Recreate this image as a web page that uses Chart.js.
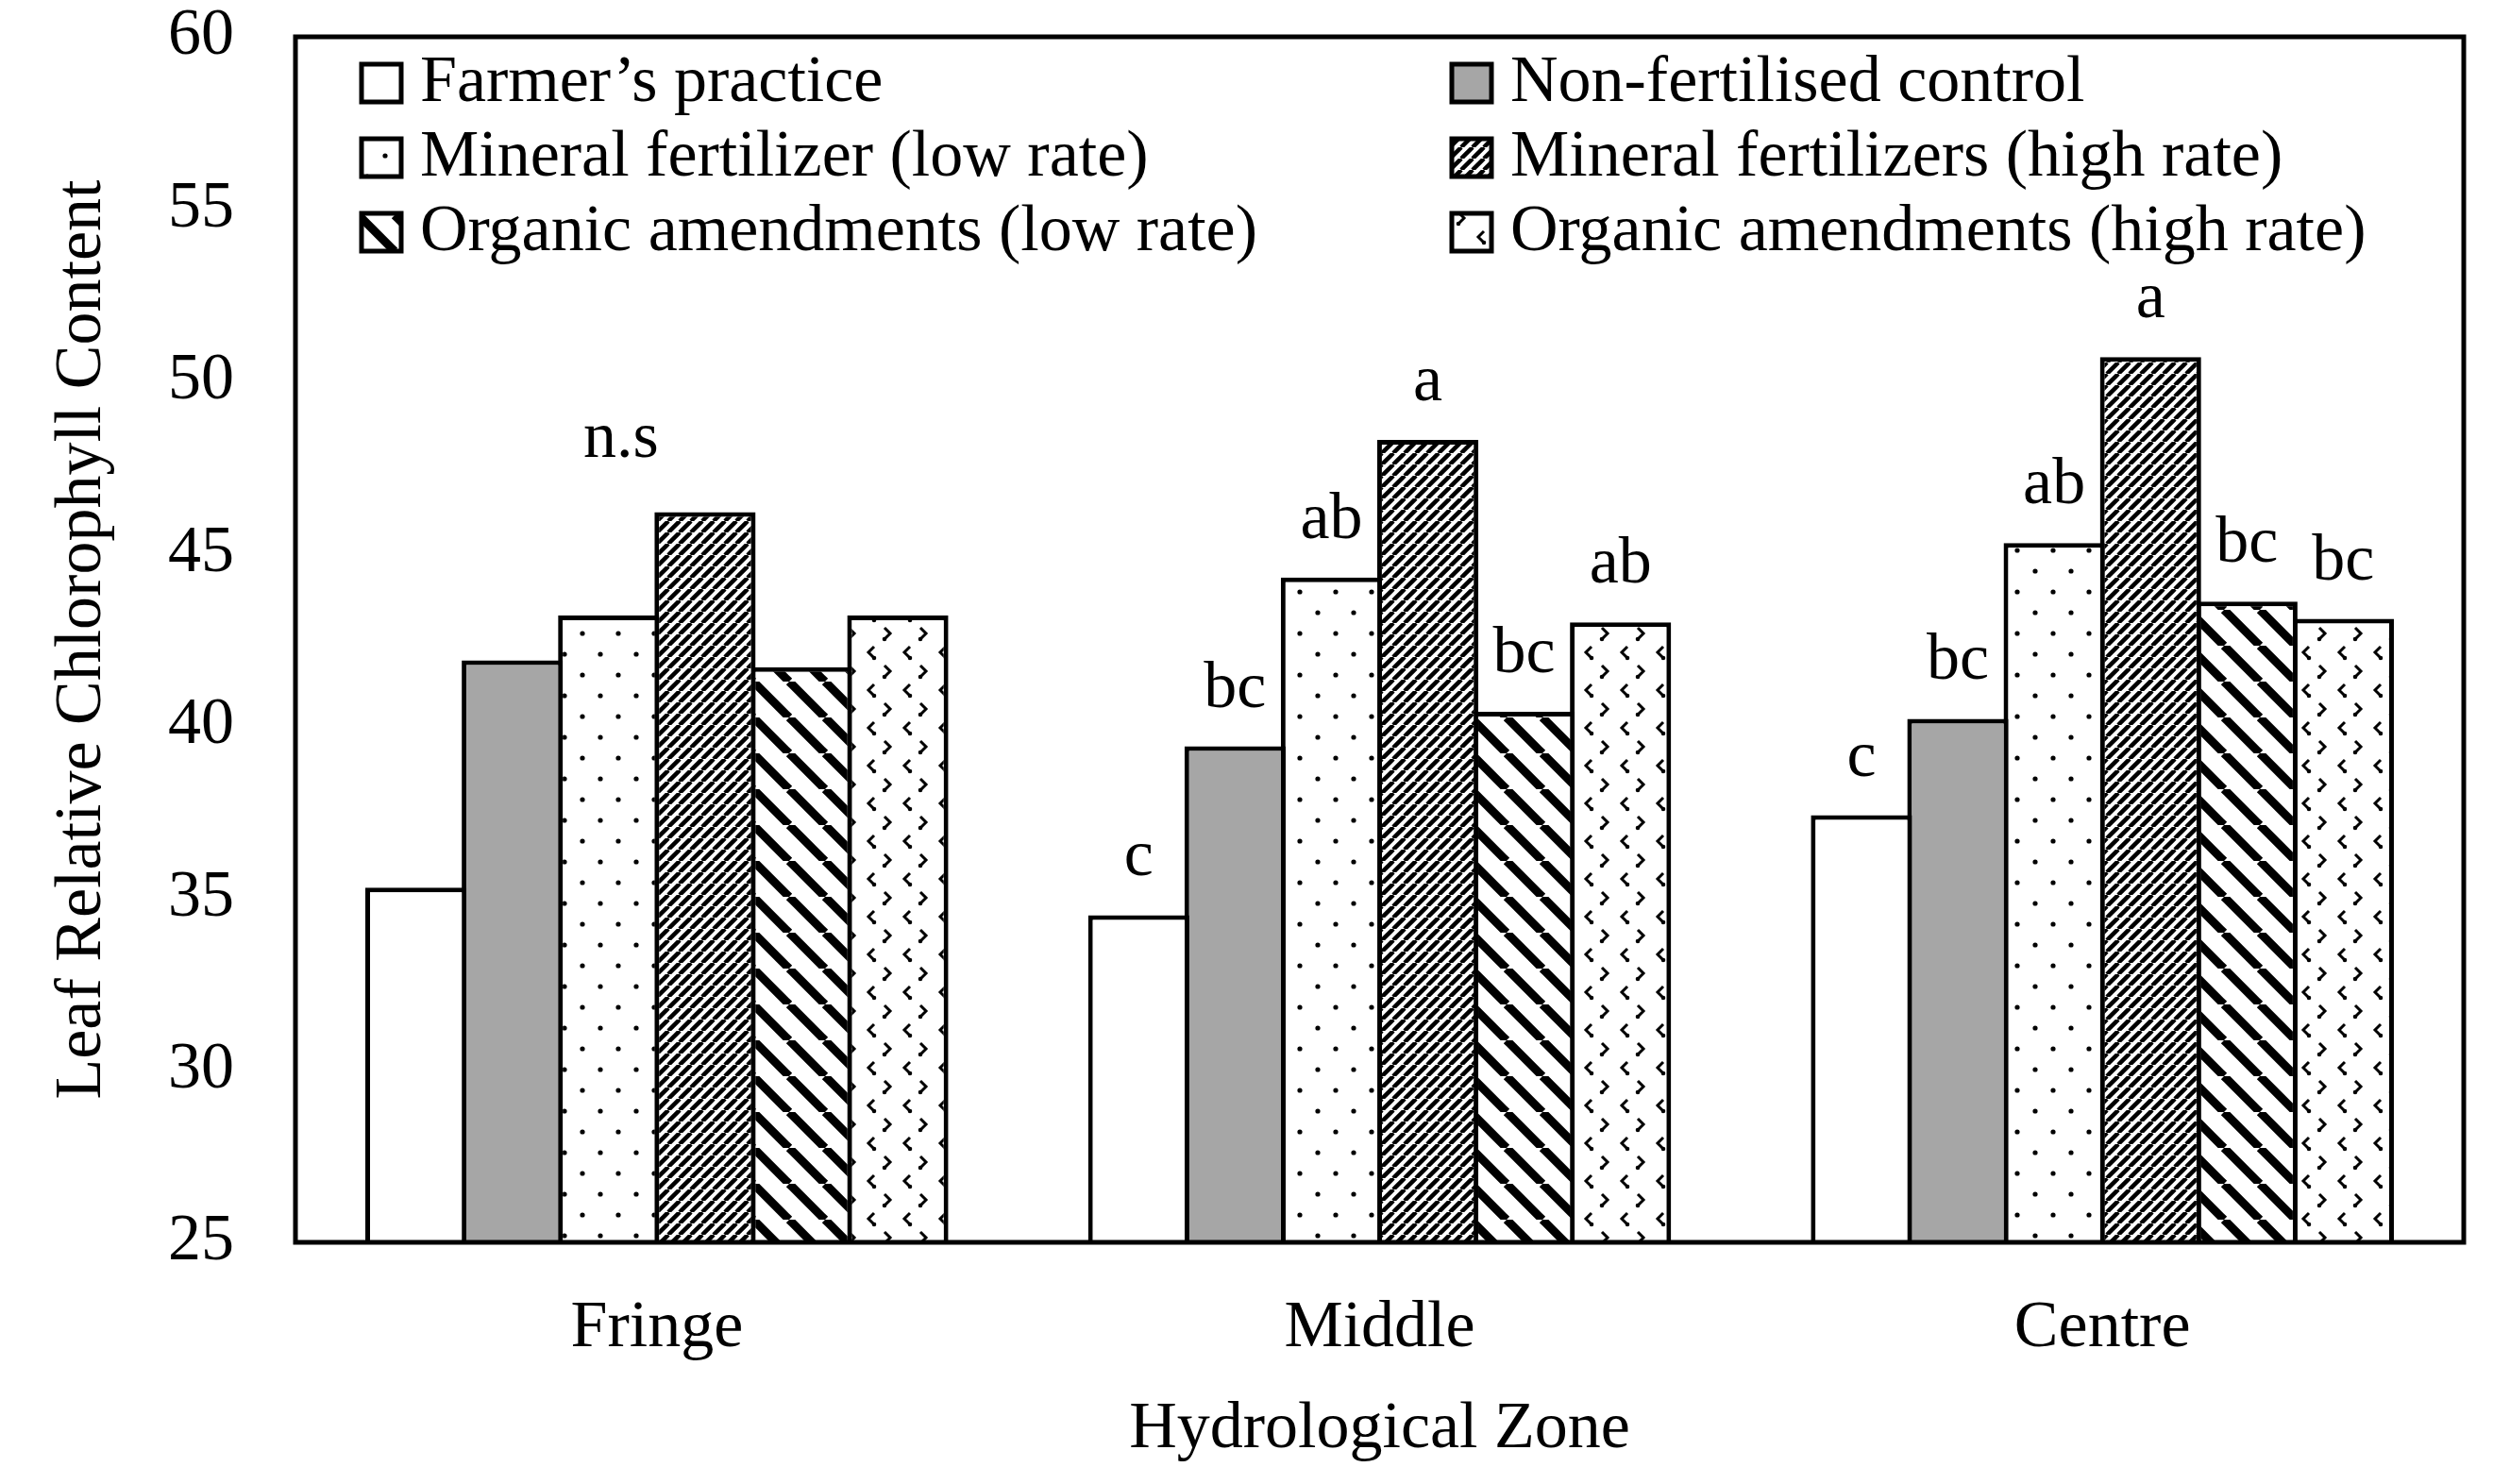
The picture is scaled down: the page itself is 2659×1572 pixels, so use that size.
<!DOCTYPE html>
<html>
<head>
<meta charset="utf-8">
<script src="https://cdn.jsdelivr.net/npm/chart.js@4.4.1/dist/chart.umd.min.js"></script>
<style>
  html, body { margin: 0; padding: 0; background: #fff; }
  canvas { display: block; }
</style>
</head>
<body>
<canvas id="chlorophyllChart" width="2659" height="1572" style="width:2659px;height:1572px"></canvas>
<script>
// values
const zones = ['Fringe', 'Middle', 'Centre'];
const treatments = [
    'Farmer\u2019s practice',
    'Non-fertilised control',
    'Mineral fertilizer (low rate)',
    'Mineral fertilizers (high rate)',
    'Organic amendments (low rate)',
    'Organic amendments (high rate)'
];
const farmerPractice = [35.3, 34.5, 37.4];
const nonFertilised = [41.9, 39.4, 40.2];
const mineralLow = [43.2, 44.3, 45.3];
const mineralHigh = [46.2, 48.3, 50.7];
const organicLow = [41.7, 40.4, 43.6];
const organicHigh = [43.2, 43.0, 43.1];

// significance letters, one list per zone, in treatment order
const fringeLetters = ['', '', '', '', '', ''];
const middleLetters = ['c', 'bc', 'ab', 'a', 'bc', 'ab'];
const centreLetters = ['c', 'bc', 'ab', 'a', 'bc', 'bc'];
const fringeNote = 'n.s';
const fringeNoteValue = 47.8;

const yTicks = [25, 30, 35, 40, 45, 50, 55, 60];

const FONT = 'Liberation Serif';
Chart.defaults.font.family = FONT;
Chart.defaults.font.size = 70;
Chart.defaults.color = '#000';

const canvas = document.getElementById('chlorophyllChart');
const ctx = canvas.getContext('2d');

function makePattern(w, h, draw) {
    const tile = document.createElement('canvas');
    tile.width = w;
    tile.height = h;
    const t = tile.getContext('2d');
    t.fillStyle = '#fff';
    t.fillRect(0, 0, w, h);
    t.fillStyle = '#000';
    t.strokeStyle = '#000';
    draw(t, w, h);
    return ctx.createPattern(tile, 'repeat');
}

function diagonal(t, s, up) {
    t.beginPath();
    for (const off of [-s, 0, s]) {
        if (up) {
            t.moveTo(off, s);
            t.lineTo(off + s, 0);
        } else {
            t.moveTo(off, 0);
            t.lineTo(off + s, s);
        }
    }
    t.stroke();
}

const dotsPattern = makePattern(38, 44, (t) => {
    t.beginPath();
    t.arc(9, 11, 2.6, 0, Math.PI * 2);
    t.arc(28, 33, 2.6, 0, Math.PI * 2);
    t.fill();
});

const fineHatch = makePattern(12, 12, (t, s) => {
    t.lineWidth = 4.5;
    diagonal(t, s, true);
});

const wideHatch = makePattern(38, 38, (t, s) => {
    t.lineWidth = 9;
    diagonal(t, s, false);
});

const chevrons = makePattern(38, 40, (t) => {
    t.lineWidth = 3;
    t.beginPath();
    t.moveTo(14, 5); t.lineTo(8, 11); t.lineTo(14, 17);
    t.moveTo(25, 25); t.lineTo(31, 31); t.lineTo(25, 37);
    t.stroke();
    t.beginPath();
    t.arc(14, 17, 2.3, 0, Math.PI * 2);
    t.arc(25, 37, 2.3, 0, Math.PI * 2);
    t.fill();
});

const fills = ['#ffffff', '#a6a6a6', dotsPattern, fineHatch, wideHatch, chevrons];
const seriesValues = [farmerPractice, nonFertilised, mineralLow, mineralHigh, organicLow, organicHigh];

const legendCols = [70, 1225];
const legendRows = [49, 128, 207];

const frameAndLegend = {
    id: 'frameAndLegend',
    afterDatasetsDraw(chart) {
        const { ctx, chartArea } = chart;
        ctx.save();
        ctx.lineWidth = 5;
        ctx.strokeStyle = '#000';
        ctx.strokeRect(chartArea.left, chartArea.top, chartArea.right - chartArea.left, chartArea.bottom - chartArea.top);

        // letters above the bars
        ctx.font = '70px "' + FONT + '"';
        ctx.textAlign = 'center';
        ctx.textBaseline = 'alphabetic';
        ctx.fillStyle = '#000';
        const letterSets = [fringeLetters, middleLetters, centreLetters];
        chart.data.datasets.forEach((ds, i) => {
            const meta = chart.getDatasetMeta(i);
            meta.data.forEach((bar, j) => {
                const txt = letterSets[j][i];
                if (txt) ctx.fillText(txt, bar.x, bar.y - 42);
            });
        });
        const nsBar = chart.getDatasetMeta(2).data[0];
        ctx.fillText(fringeNote, nsBar.x + 13, chart.scales.y.getPixelForValue(fringeNoteValue));

        // legend in a 2 x 3 grid
        ctx.textAlign = 'left';
        chart.data.datasets.forEach((ds, i) => {
            const x = chartArea.left + legendCols[i % 2];
            const y = chartArea.top + legendRows[Math.floor(i / 2)];
            ctx.fillStyle = ds.backgroundColor;
            ctx.fillRect(x, y - 20, 42, 40);
            ctx.lineWidth = 5;
            ctx.strokeRect(x, y - 20, 42, 40);
            ctx.fillStyle = '#000';
            ctx.fillText(ds.label, x + 62, y + 19);
        });
        ctx.restore();
    }
};

new Chart(canvas, {
    type: 'bar',
    data: {
        labels: zones,
        datasets: treatments.map((name, i) => ({
            label: name,
            data: seriesValues[i],
            backgroundColor: fills[i],
            borderColor: '#000',
            borderWidth: 5,
            categoryPercentage: 0.8,
            barPercentage: 1.05
        }))
    },
    options: {
        responsive: false,
        animation: false,
        devicePixelRatio: 1,
        layout: { padding: { top: 39, right: 49, left: 0, bottom: 0 } },
        plugins: {
            legend: { display: false },
            tooltip: { enabled: false }
        },
        scales: {
            x: {
                grid: { display: false, drawTicks: false },
                border: { display: false },
                ticks: { padding: 50, font: { size: 70 } },
                title: {
                    display: true,
                    text: 'Hydrological Zone',
                    font: { size: 70 },
                    padding: { top: 0, bottom: 15 }
                },
                afterFit(scale) {
                    scale.height = 256;
                    scale.paddingLeft = 0;
                    scale.paddingRight = 0;
                }
            },
            y: {
                min: 25,
                max: 60,
                afterBuildTicks(scale) { scale.ticks = yTicks.map(v => ({ value: v })); },
                grid: { display: false, drawTicks: false },
                border: { display: false },
                ticks: { padding: 65, font: { size: 70 } },
                title: {
                    display: true,
                    text: 'Leaf Relative Chlorophyll Content',
                    font: { size: 70 },
                    padding: { top: 46, bottom: 0 }
                },
                afterFit(scale) {
                    scale.width = 313;
                    scale.paddingTop = 0;
                    scale.paddingBottom = 0;
                }
            }
        }
    },
    plugins: [frameAndLegend]
});
</script>
</body>
</html>
